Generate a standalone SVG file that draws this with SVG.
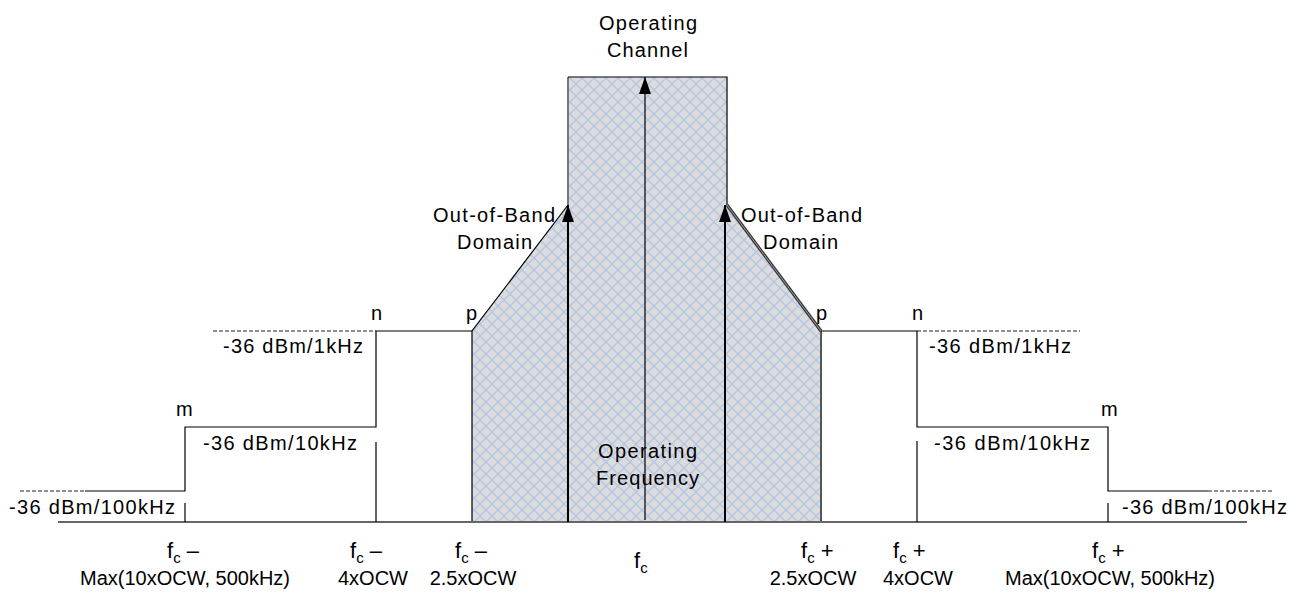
<svg xmlns="http://www.w3.org/2000/svg" width="1289" height="592" viewBox="0 0 1289 592">
  <defs>
    <pattern id="hatch" patternUnits="userSpaceOnUse" width="12" height="12">
      <rect width="12" height="12" fill="#dcdcdc"/>
      <path d="M0,0 L12,12 M12,0 L0,12" stroke="#b3c5e6" stroke-width="1.3" fill="none"/>
    </pattern>
    <marker id="arr" viewBox="0 0 17 12" refX="17" refY="6" markerWidth="17" markerHeight="12" markerUnits="userSpaceOnUse" orient="auto">
      <path d="M17,6 L0,0 L0,12 Z" fill="#000"/>
    </marker>
  </defs>
  <style>
    text { font-family: "Liberation Sans", Arial, sans-serif; fill: #000; }
    .t { font-size: 20px; }
    .lbl { font-size: 20px; }
    .f { font-size: 22px; }
    .sub { font-size: 15px; }
    .ln { stroke: #000; stroke-width: 1.2; fill: none; }
    .dash { stroke: #222; stroke-width: 1; stroke-dasharray: 4 2; fill: none; }
    .axis { stroke: #666; stroke-width: 2; fill: none; }
  </style>

  <rect width="1289" height="592" fill="#fff"/>

  <!-- shaded emission region -->
  <g id="channel">
    <polygon points="472,331 568,205 568,77 727,77 727,205 821,331 821,522 472,522" fill="url(#hatch)" stroke="none"/>
    <path d="M472,522 L472,331 L568,205" class="ln"/>
    <path d="M568,205 L568,77" stroke="#777" stroke-width="2" fill="none"/>
    <path d="M568,77 L727,77 L727,205" class="ln"/>
    <path d="M727,205 L821,331" stroke="#333" stroke-width="3.2" fill="none"/>
    <path d="M727,205 L821,331" stroke="#aaa" stroke-width="0.9" fill="none"/>
    <path d="M821,331 L821,522" stroke="#555" stroke-width="2" fill="none"/>
  </g>

  <!-- connectors / spectrum mask lines -->
  <g id="connectors">
    <line x1="58" y1="522" x2="1247" y2="522" class="axis"/>
    <!-- left mask -->
    <line x1="20" y1="491" x2="85" y2="491" class="dash"/>
    <polyline points="85,491 185,491 185,427 376,427 376,331 472,331" class="ln"/>
    <line x1="213" y1="331" x2="376" y2="331" class="dash"/>
    <line x1="185" y1="503" x2="185" y2="522" class="ln"/>
    <line x1="376" y1="442" x2="376" y2="522" class="ln"/>
    <!-- right mask -->
    <polyline points="821,331 917,331 917,427 1108,427 1108,491 1208,491" class="ln"/>
    <line x1="917" y1="331" x2="1080" y2="331" class="dash"/>
    <line x1="1208" y1="491" x2="1273" y2="491" class="dash"/>
    <line x1="917" y1="441" x2="917" y2="522" class="ln"/>
    <line x1="1108" y1="503" x2="1108" y2="522" class="ln"/>
    <!-- arrows -->
    <line x1="568" y1="522" x2="568" y2="205" stroke="#000" stroke-width="2" marker-end="url(#arr)"/>
    <line x1="725" y1="522" x2="725" y2="205" stroke="#000" stroke-width="2" marker-end="url(#arr)"/>
    <line x1="645" y1="520" x2="645" y2="77" stroke="#000" stroke-width="1.2" marker-end="url(#arr)"/>
  </g>

  <!-- labels -->
  <g id="label-channel">
    <text class="t" x="599" y="30" textLength="98">Operating</text>
    <text class="t" x="607" y="57" textLength="81">Channel</text>
  </g>
  <g id="label-oob-left">
    <text class="t" x="433" y="222" textLength="122">Out-of-Band</text>
    <text class="t" x="457" y="249" textLength="75">Domain</text>
  </g>
  <g id="label-oob-right">
    <text class="t" x="741" y="222" textLength="121">Out-of-Band</text>
    <text class="t" x="763" y="249" textLength="75">Domain</text>
  </g>
  <g id="label-freq">
    <text class="t" x="598" y="458" textLength="99">Operating</text>
    <text class="t" x="596" y="485" textLength="103">Frequency</text>
  </g>
  <g id="points">
    <text class="t" x="466" y="320">p</text>
    <text class="t" x="816" y="320">p</text>
    <text class="t" x="371" y="320">n</text>
    <text class="t" x="912" y="320">n</text>
    <text class="t" x="176" y="416">m</text>
    <text class="t" x="1101" y="416">m</text>
  </g>
  <g id="levels">
    <text class="lbl" x="223" y="353" textLength="140">-36 dBm/1kHz</text>
    <text class="lbl" x="203" y="450" textLength="154">-36 dBm/10kHz</text>
    <text class="lbl" x="9" y="514" textLength="166">-36 dBm/100kHz</text>
    <text class="lbl" x="929" y="353" textLength="142">-36 dBm/1kHz</text>
    <text class="lbl" x="934" y="450" textLength="156">-36 dBm/10kHz</text>
    <text class="lbl" x="1122" y="514" textLength="165">-36 dBm/100kHz</text>
  </g>
  <g id="freq-labels">
    <text class="f" x="167" y="558">f<tspan class="sub" dy="5">c</tspan><tspan class="f" dy="-5"> –</tspan></text>
    <text class="lbl" x="185" y="585" text-anchor="middle">Max(10xOCW, 500kHz)</text>
    <text class="f" x="350" y="558">f<tspan class="sub" dy="5">c</tspan><tspan class="f" dy="-5"> –</tspan></text>
    <text class="lbl" x="373" y="585" text-anchor="middle">4xOCW</text>
    <text class="f" x="455" y="558">f<tspan class="sub" dy="5">c</tspan><tspan class="f" dy="-5"> –</tspan></text>
    <text class="lbl" x="473" y="585" text-anchor="middle">2.5xOCW</text>
    <text class="f" x="634" y="568">f<tspan class="sub" dy="5">c</tspan></text>
    <text class="f" x="801" y="558">f<tspan class="sub" dy="5">c</tspan><tspan class="f" dy="-5"> +</tspan></text>
    <text class="lbl" x="813" y="585" text-anchor="middle">2.5xOCW</text>
    <text class="f" x="893" y="558">f<tspan class="sub" dy="5">c</tspan><tspan class="f" dy="-5"> +</tspan></text>
    <text class="lbl" x="918" y="585" text-anchor="middle">4xOCW</text>
    <text class="f" x="1092" y="558">f<tspan class="sub" dy="5">c</tspan><tspan class="f" dy="-5"> +</tspan></text>
    <text class="lbl" x="1110" y="585" text-anchor="middle">Max(10xOCW, 500kHz)</text>
  </g>
</svg>
